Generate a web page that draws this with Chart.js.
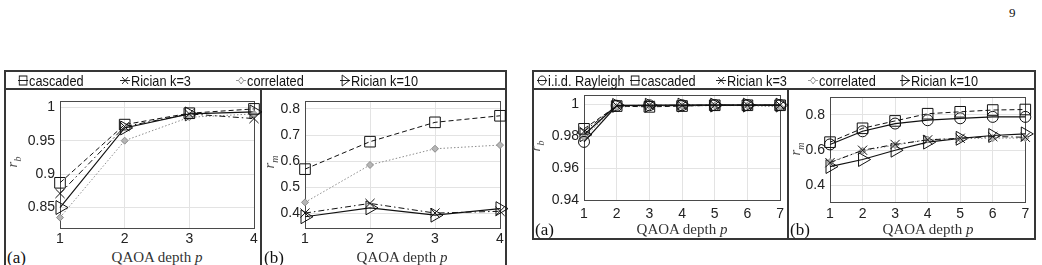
<!DOCTYPE html>
<html>
<head>
<meta charset="utf-8">
<script src="https://cdn.jsdelivr.net/npm/chart.js@4.4.1/dist/chart.umd.min.js"></script>
<style>
  html, body { margin: 0; padding: 0; background: #fff; }
  body { position: relative; width: 1042px; height: 265px; overflow: hidden; }
  canvas { position: absolute; }
  .box { position: absolute; box-sizing: border-box; border: 2px solid #363636; }
  .vline { position: absolute; width: 2px; background: #363636; }
  .lab { position: absolute; font-family: "Liberation Serif", serif; color: #333; white-space: nowrap; line-height: 1; }
  .xl { font-size: 15px; transform: translate(-50%, -50%); }
  .pl { font-size: 17px; transform: translateY(-50%); color: #111; }
  .yl { font-size: 15px; font-style: italic; color: #555; transform: translate(-50%, -50%) rotate(-90deg); }
  .yl sub { font-size: 10px; }
  .leg { position: absolute; font-family: "Liberation Sans", Arial, sans-serif; font-size: 15px; color: #111;
         white-space: nowrap; transform: translateY(-50%) scaleX(0.85); transform-origin: left center;
         display: flex; align-items: center; }
  .leg svg { margin-right: 1px; }
</style>
</head>
<body>

<div class="lab" style="left:1009px; top:6px; font-size:13px; color:#111;">9</div>

<!-- left figure frames -->
<div class="box" style="left:4px; top:70px; width:503px; height:20px;"></div>
<div class="box" style="left:4px; top:88px; width:503px; height:200px;"></div>
<div class="vline" style="left:260px; top:88px; height:200px;"></div>

<!-- right figure frames -->
<div class="box" style="left:532px; top:70px; width:504px; height:20px;"></div>
<div class="box" style="left:532px; top:88px; width:504px; height:152px;"></div>
<div class="vline" style="left:787px; top:88px; height:152px;"></div>

<canvas id="la" width="250" height="159" style="left:15px; top:88px;"></canvas>
<canvas id="lb" width="250" height="159" style="left:262px; top:88px;"></canvas>
<canvas id="ra" width="250" height="139" style="left:540px; top:82px;"></canvas>
<canvas id="rb" width="245" height="139" style="left:790px; top:84px;"></canvas>

<div id="legL"></div>
<div id="legR"></div>

<div class="lab pl" style="left:7px; top:257px;">(a)</div>
<div class="lab xl" style="left:157px; top:257px;">QAOA depth <i>p</i></div>
<div class="lab yl" style="left:14px; top:162px;">r<sub>b</sub></div>

<div class="lab pl" style="left:264px; top:257px;">(b)</div>
<div class="lab xl" style="left:402px; top:257px;">QAOA depth <i>p</i></div>
<div class="lab yl" style="left:271px; top:162px;">r<sub>m</sub></div>

<div class="lab pl" style="left:535px; top:229px;">(a)</div>
<div class="lab xl" style="left:682px; top:229px;">QAOA depth <i>p</i></div>
<div class="lab yl" style="left:537px; top:146px;">r<sub>b</sub></div>

<div class="lab pl" style="left:790px; top:229px;">(b)</div>
<div class="lab xl" style="left:928px; top:229px;">QAOA depth <i>p</i></div>
<div class="lab yl" style="left:797px; top:149px;">r<sub>m</sub></div>

<script>
// QAOA depth values on the x axes
const depthLeft = [1, 2, 3, 4];
const depthRight = [1, 2, 3, 4, 5, 6, 7];

// left figure, (a) r_b
const lRbCascaded = [0.887, 0.974, 0.991, 0.9975];
const lRbRician3 = [0.871, 0.971, 0.990, 0.983];
const lRbCorrelated = [0.835, 0.950, 0.985, 0.990];
const lRbRician10 = [0.850, 0.969, 0.990, 0.993];

// left figure, (b) r_m
const lRmCascaded = [0.570, 0.675, 0.749, 0.774];
const lRmRician3 = [0.402, 0.439, 0.402, 0.409];
const lRmCorrelated = [0.443, 0.586, 0.648, 0.662];
const lRmRician10 = [0.388, 0.422, 0.394, 0.419];

// right figure, (a) r_b
const rRbRayleigh = [0.9765, 0.9992, 0.9995, 0.9995, 0.9996, 0.9996, 0.9996];
const rRbCascaded = [0.9847, 0.9990, 0.9985, 0.9990, 0.9995, 0.9995, 0.9995];
const rRbRician3 = [0.9830, 0.9993, 0.9995, 0.9995, 0.9996, 0.9996, 0.9996];
const rRbCorrelated = [0.9795, 0.9985, 0.9990, 0.9990, 0.9993, 0.9993, 0.9985];
const rRbRician10 = [0.9810, 0.9994, 0.9995, 0.9996, 0.9996, 0.9996, 0.9996];

// right figure, (b) r_m
const rRmRayleigh = [0.632, 0.707, 0.751, 0.770, 0.781, 0.789, 0.789];
const rRmCascaded = [0.645, 0.724, 0.766, 0.807, 0.818, 0.828, 0.831];
const rRmRician3 = [0.528, 0.599, 0.632, 0.658, 0.667, 0.677, 0.673];
const rRmCorrelated = [0.532, 0.596, 0.628, 0.660, 0.665, 0.668, 0.668];
const rRmRician10 = [0.506, 0.546, 0.599, 0.645, 0.667, 0.683, 0.692];

// tick labels
const yTicksLa = [0.85, 0.9, 0.95, 1];
const yTicksLb = [0.4, 0.5, 0.6, 0.7, 0.8];
const yTicksRa = [0.94, 0.96, 0.98, 1];
const yTicksRb = [0.4, 0.6, 0.8];

const legendLeft = ['cascaded', 'Rician k=3', 'correlated', 'Rician k=10'];
const legendRight = ['i.i.d. Rayleigh', 'cascaded', 'Rician k=3', 'correlated', 'Rician k=10'];

const ink = '#111';
const grey = '#8c8c8c';

const styles = {
	'i.i.d. Rayleigh': { pointStyle: 'circle', radius: 5.5, color: ink, dash: [], width: 1.2, rot: 0, fill: 'rgba(0,0,0,0)' },
	'cascaded': { pointStyle: 'rect', radius: 7.5, color: ink, dash: [5, 3], width: 1, rot: 0, fill: 'rgba(0,0,0,0)' },
	'Rician k=3': { pointStyle: 'crossRot', radius: 6.5, color: ink, dash: [6, 3, 1.5, 3], width: 1, rot: 0, fill: 'rgba(0,0,0,0)' },
	'correlated': { pointStyle: 'rectRot', radius: 3.5, color: grey, dash: [1.5, 2], width: 1, rot: 0, fill: '#b5b5b5' },
	'Rician k=10': { pointStyle: 'triangle', radius: 8, color: ink, dash: [], width: 1.2, rot: 90, fill: 'rgba(0,0,0,0)' }
};

// axes box drawn under the markers
const frame = {
	id: 'frame',
	beforeDatasetsDraw(chart) {
		const { ctx, chartArea: a } = chart;
		ctx.save();
		ctx.strokeStyle = '#4a4a4a';
		ctx.lineWidth = 1;
		ctx.strokeRect(Math.round(a.left) + 0.5, Math.round(a.top) + 0.5,
			Math.round(a.right - a.left), Math.round(a.bottom - a.top));
		ctx.restore();
	}
};

function dataset(name, values) {
	const s = styles[name];
	return {
		label: name,
		data: values,
		borderColor: s.color,
		borderWidth: s.width,
		borderDash: s.dash,
		pointStyle: s.pointStyle,
		pointRadius: s.radius,
		pointRotation: s.rot,
		pointBorderColor: s.color,
		pointBackgroundColor: s.fill,
		pointBorderWidth: 1,
		tension: 0,
		clip: false
	};
}

// axW/axH fix the tick label bands, padTop/padRight place the plot box
function makeChart(id, labels, sets, yMin, yMax, yTicks, g) {
	const tickFont = { family: 'Liberation Sans, Arial, sans-serif', size: 14 };
	new Chart(document.getElementById(id), {
		type: 'line',
		data: { labels: labels, datasets: sets },
		options: {
			responsive: false,
			animation: false,
			events: [],
			layout: { padding: { top: g.padTop, right: g.padRight, left: 0, bottom: 0 } },
			plugins: { legend: { display: false }, tooltip: { enabled: false } },
			scales: {
				x: {
					grid: { color: '#e3e3e3', drawTicks: false },
					border: { display: false },
					ticks: { color: '#222', font: tickFont, padding: g.xPad, maxRotation: 0, autoSkip: false },
					afterFit: s => { s.height = g.axH; }
				},
				y: {
					min: yMin,
					max: yMax,
					grid: { color: '#e3e3e3', drawTicks: false },
					border: { display: false },
					ticks: { color: '#222', font: tickFont, padding: 5, callback: v => String(v) },
					afterBuildTicks: s => { s.ticks = yTicks.map(v => ({ value: v })); },
					afterFit: s => { s.width = g.axW; }
				}
			}
		},
		plugins: [frame]
	});
}

makeChart('la', depthLeft, [
	dataset('cascaded', lRbCascaded),
	dataset('Rician k=3', lRbRician3),
	dataset('correlated', lRbCorrelated),
	dataset('Rician k=10', lRbRician10)
], 0.8194, 1.0087, yTicksLa, { padTop: 10, padRight: 11, axW: 45, axH: 19, xPad: 3 });

makeChart('lb', depthLeft, [
	dataset('cascaded', lRmCascaded),
	dataset('Rician k=3', lRmRician3),
	dataset('correlated', lRmCorrelated),
	dataset('Rician k=10', lRmRician10)
], 0.345, 0.829, yTicksLb, { padTop: 10, padRight: 12, axW: 43, axH: 19, xPad: 3 });

makeChart('ra', depthRight, [
	dataset('i.i.d. Rayleigh', rRbRayleigh),
	dataset('cascaded', rRbCascaded),
	dataset('Rician k=3', rRbRician3),
	dataset('correlated', rRbCorrelated),
	dataset('Rician k=10', rRbRician10)
], 0.94, 1.0057, yTicksRa, { padTop: 10, padRight: 9.3, axW: 44, axH: 21, xPad: 6 });

makeChart('rb', depthRight, [
	dataset('i.i.d. Rayleigh', rRmRayleigh),
	dataset('cascaded', rRmCascaded),
	dataset('Rician k=3', rRmRician3),
	dataset('correlated', rRmCorrelated),
	dataset('Rician k=10', rRmRician10)
], 0.3, 0.9, yTicksRb, { padTop: 10.3, padRight: 9.7, axW: 40, axH: 20.3, xPad: 3 });

// legend tokens: short line with the marker on it
function token(name) {
	const s = styles[name];
	const c = s.color;
	let mark = '';
	if (name === 'i.i.d. Rayleigh') mark = `<circle cx="6" cy="7" r="4.5" fill="none" stroke="${c}"/>`;
	if (name === 'cascaded') mark = `<rect x="1.5" y="2.5" width="9" height="9" fill="none" stroke="${c}"/>`;
	if (name === 'Rician k=3') mark = `<path d="M2.5 3.5L9.5 10.5M9.5 3.5L2.5 10.5" stroke="${c}"/>`;
	if (name === 'correlated') mark = `<path d="M6 3.5L9 7L6 10.5L3 7Z" fill="#fff" stroke="${c}"/>`;
	if (name === 'Rician k=10') mark = `<path d="M2.5 1.5L11 7L2.5 12.5Z" fill="none" stroke="${c}"/>`;
	return `<svg width="12" height="14" viewBox="0 0 12 14"><line x1="0" y1="7" x2="12" y2="7" stroke="${c}"/>${mark}</svg>`;
}

function legend(el, names, xs) {
	el.innerHTML = names.map((n, i) =>
		`<div class="leg" style="left:${xs[i]}px; top:80px;">${token(n)}<span>${n}</span></div>`).join('');
}

legend(document.getElementById('legL'), legendLeft, [18, 120, 236, 340]);
legend(document.getElementById('legR'), legendRight, [537, 630, 716, 808, 900]);
</script>
</body>
</html>
